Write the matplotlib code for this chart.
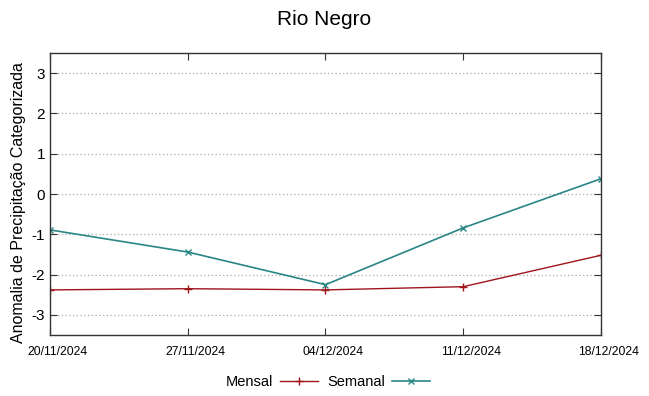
import matplotlib
matplotlib.use("Agg")
import matplotlib.pyplot as plt
import matplotlib.transforms as mtransforms

dates = ["20/11/2024", "27/11/2024", "04/12/2024", "11/12/2024", "18/12/2024"]
mensal = [-2.38, -2.35, -2.38, -2.30, -1.52]
semanal = [-0.89, -1.44, -2.25, -0.84, 0.38]
yticks = [-3, -2, -1, 0, 1, 2, 3]

plt.rcParams['font.family'] = ['Liberation Sans', 'DejaVu Sans']

fig = plt.figure(figsize=(6.49, 3.96), dpi=100)
ax = fig.add_axes([0.077, 0.154, 0.849, 0.712])
x = list(range(len(dates)))
ax.plot(x, mensal, color='#a0141c', lw=1.0, marker='+', ms=6, mew=1.0, label='Mensal')
ax.plot(x, semanal, color='#2a8585', lw=1.2, marker='x', ms=5, mew=1.0, label='Semanal')
ax.set_xlim(0, len(dates) - 1)
ax.set_ylim(-3.5, 3.5)
ax.set_xticks(x)
ax.set_xticklabels(dates, fontsize=8.8)
ax.set_yticks(yticks)
ax.set_yticklabels([str(v) for v in yticks], fontsize=11)
ax.tick_params(direction='in', top=True, right=True, length=5, width=0.8, color='#333333')
ax.tick_params(axis='x', pad=8)
offset = mtransforms.ScaledTranslation(8 / 100, 0, fig.dpi_scale_trans)
for tick in ax.xaxis.get_major_ticks():
    tick.label1.set_transform(tick.label1.get_transform() + offset)
ax.yaxis.grid(True, linestyle=(0, (1, 2)), color='#aaaaaa', lw=0.9)
for s in ax.spines.values():
    s.set_color('#333333')
    s.set_linewidth(1.0)
ax.set_ylabel('Anomalia de Precipitação Categorizada', fontsize=11.5)
ax.yaxis.set_label_coords(-0.044, 0.47)
fig.suptitle('Rio Negro', fontsize=15, y=0.975)
fig.legend(loc='center', bbox_to_anchor=(0.505, 0.035), ncol=2, frameon=False,
           markerfirst=False, fontsize=10.5, handlelength=2.6, columnspacing=0.6,
           handletextpad=0.5)
fig.savefig('out.png', dpi=100)
